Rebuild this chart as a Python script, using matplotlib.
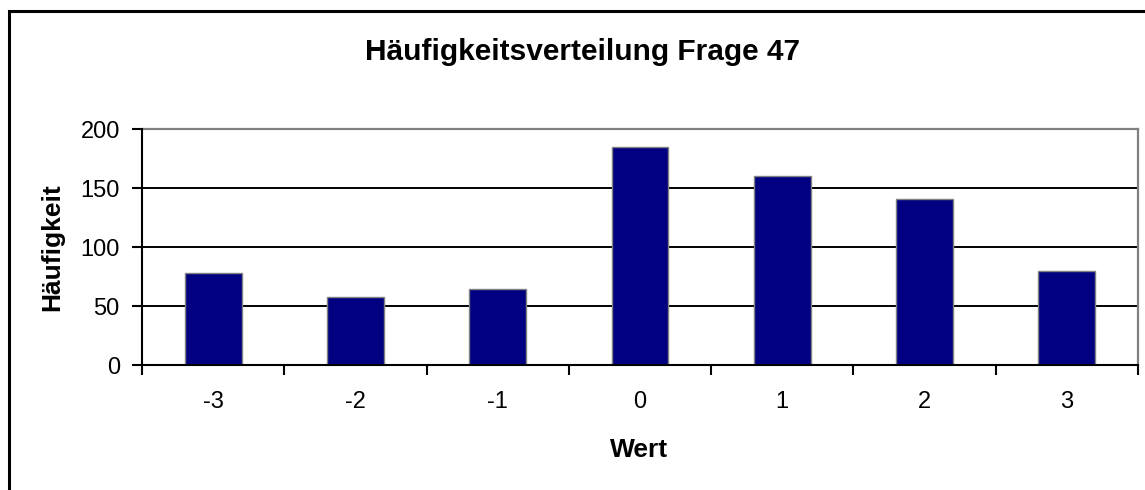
import matplotlib
matplotlib.use("Agg")
import matplotlib.pyplot as plt
from matplotlib.patches import Rectangle
import numpy as np

categories = ["-3", "-2", "-1", "0", "1", "2", "3"]
values = [78, 58, 64, 185, 160, 141, 80]
yticks = [0, 50, 100, 150, 200]

plt.rcParams['font.family'] = ['Liberation Sans', 'DejaVu Sans']

fig = plt.figure(figsize=(11.45, 4.9), dpi=100)
ax = fig.add_axes([142/1145, 1-365/490, (1138-142)/1145, (365-129)/490])

x = np.arange(len(categories))
ax.bar(x, values, width=0.4, color='#000080', edgecolor='#808080', linewidth=1, zorder=3)

ax.set_xlim(-0.5, len(categories) - 0.5)
ax.set_ylim(0, 200)
ax.set_yticks(yticks)
ax.set_yticklabels([str(v) for v in yticks])
ax.set_xticks(x)
ax.set_xticklabels(categories)
ax.set_xticks(np.arange(-0.5, len(categories), 1.0), minor=True)
ax.tick_params(axis='x', which='major', length=0, pad=19, labelsize=17)
ax.tick_params(axis='x', which='minor', length=7, width=1.5, direction='out')
ax.tick_params(axis='y', which='major', length=7, width=1.5, direction='out', pad=9, labelsize=17)

ax.yaxis.grid(True, color='black', linewidth=1.4, zorder=1)
ax.set_axisbelow(True)

for s in ['top', 'right']:
    ax.spines[s].set_color('#808080')
    ax.spines[s].set_linewidth(1.6)
for s in ['left', 'bottom']:
    ax.spines[s].set_color('black')
    ax.spines[s].set_linewidth(1.5)
    ax.spines[s].set_zorder(4)

fig.text(583/1145, 1-52/490, "Häufigkeitsverteilung Frage 47", ha='center', va='center',
         fontsize=21.5, fontweight='bold')
fig.text(639/1145, 1-450/490, "Wert", ha='center', va='center', fontsize=19, fontweight='bold')
fig.text(52/1145, 1-247/490, "Häufigkeit", ha='center', va='center', rotation=90,
         fontsize=19, fontweight='bold')

frame = Rectangle((8.5/1145, -0.2), 2.0, 1.2 - 11.5/490, transform=fig.transFigure,
                  fill=False, edgecolor='black', linewidth=2.2)
fig.patches.append(frame)

fig.savefig("out.png", dpi=100)
